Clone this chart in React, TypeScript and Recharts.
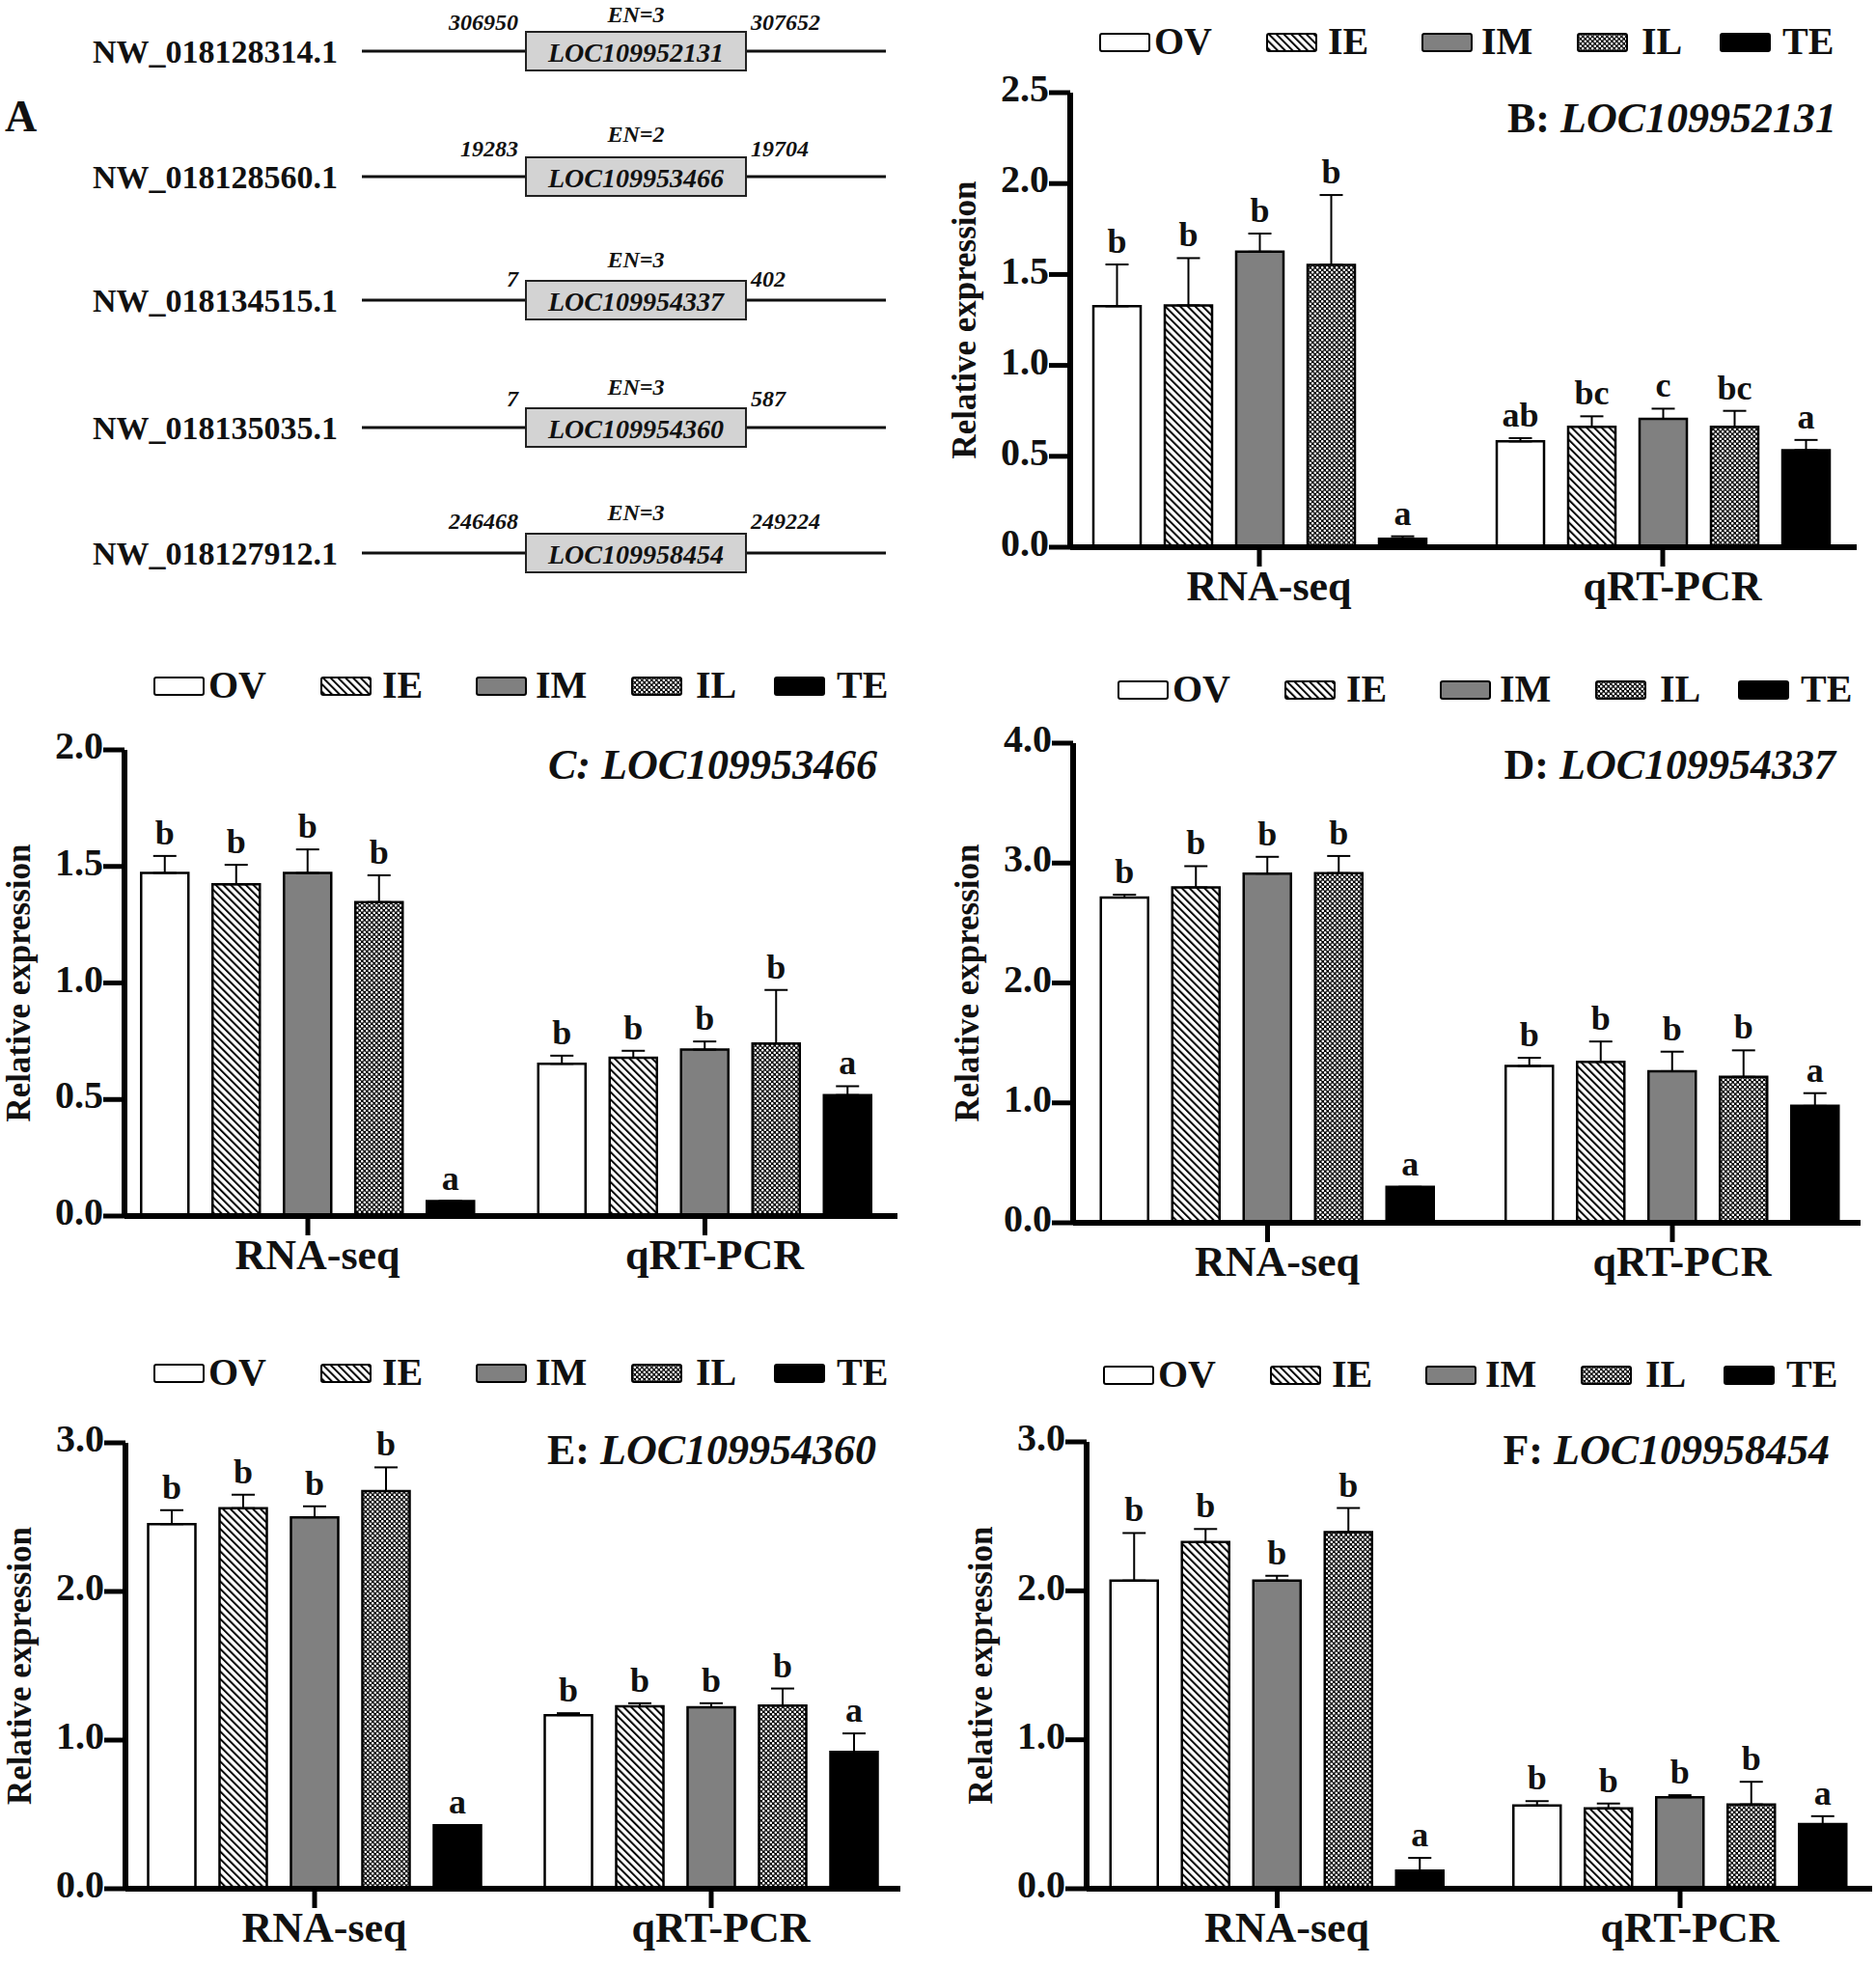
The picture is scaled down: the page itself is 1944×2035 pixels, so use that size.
import React from "react";
import { BarChart, Bar, XAxis, YAxis, ErrorBar, LabelList } from "recharts";

const FONT = '"Liberation Serif", "Times New Roman", serif';
const INK = "#111111";

const tissues = ["OV", "IE", "IM", "IL", "TE"];
const groups = ["RNA-seq", "qRT-PCR"];

// panel A: gene structure
const aScaffolds = ["NW_018128314.1", "NW_018128560.1", "NW_018134515.1", "NW_018135035.1", "NW_018127912.1"];
const aGenes = ["LOC109952131", "LOC109953466", "LOC109954337", "LOC109954360", "LOC109958454"];
const aExons = [3, 2, 3, 3, 3];
const aStarts = ["306950", "19283", "7", "7", "246468"];
const aEnds = ["307652", "19704", "402", "587", "249224"];

// panel B: LOC109952131
const bRnaMean = [1.325, 1.33, 1.625, 1.553, 0.046];
const bRnaErr = [0.23, 0.26, 0.1, 0.384, 0.014];
const bRnaSig = ["b", "b", "b", "b", "a"];
const bPcrMean = [0.582, 0.662, 0.706, 0.662, 0.534];
const bPcrErr = [0.018, 0.058, 0.056, 0.088, 0.056];
const bPcrSig = ["ab", "bc", "c", "bc", "a"];
const bTicks = [0, 0.5, 1.0, 1.5, 2.0, 2.5];

// panel C: LOC109953466
const cRnaMean = [1.472, 1.423, 1.472, 1.347, 0.064];
const cRnaErr = [0.073, 0.084, 0.101, 0.115, 0];
const cRnaSig = ["b", "b", "b", "b", "a"];
const cPcrMean = [0.653, 0.679, 0.714, 0.74, 0.519];
const cPcrErr = [0.035, 0.03, 0.035, 0.23, 0.038];
const cPcrSig = ["b", "b", "b", "b", "a"];
const cTicks = [0, 0.5, 1.0, 1.5, 2.0];

// panel D: LOC109954337
const dRnaMean = [2.712, 2.797, 2.912, 2.916, 0.299];
const dRnaErr = [0.024, 0.177, 0.14, 0.143, 0];
const dRnaSig = ["b", "b", "b", "b", "a"];
const dPcrMean = [1.308, 1.342, 1.264, 1.217, 0.975];
const dPcrErr = [0.068, 0.17, 0.163, 0.221, 0.106];
const dPcrSig = ["b", "b", "b", "b", "a"];
const dTicks = [0, 1.0, 2.0, 3.0, 4.0];

// panel E: LOC109954360
const eRnaMean = [2.453, 2.56, 2.499, 2.675, 0.427];
const eRnaErr = [0.094, 0.091, 0.074, 0.16, 0];
const eRnaSig = ["b", "b", "b", "b", "a"];
const ePcrMean = [1.168, 1.227, 1.221, 1.232, 0.92];
const ePcrErr = [0.013, 0.021, 0.027, 0.115, 0.125];
const ePcrSig = ["b", "b", "b", "b", "a"];
const eTicks = [0, 1.0, 2.0, 3.0];

// panel F: LOC109958454
const fRnaMean = [2.069, 2.327, 2.069, 2.394, 0.122];
const fRnaErr = [0.319, 0.088, 0.032, 0.162, 0.085];
const fRnaSig = ["b", "b", "b", "b", "a"];
const fPcrMean = [0.559, 0.54, 0.614, 0.566, 0.434];
const fPcrErr = [0.029, 0.032, 0.014, 0.152, 0.053];
const fPcrSig = ["b", "b", "b", "b", "a"];
const fTicks = [0, 1.0, 2.0, 3.0];

const fills: Record<string, string> = {
  OV: "#ffffff",
  IE: "url(#hatchIE)",
  IM: "#808080",
  IL: "url(#checkIL)",
  TE: "#000000",
};

function buildRows(means: number[][], errs: number[][], sigs: string[][]) {
  return groups.map((cat, g) => {
    const row: any = { cat };
    tissues.forEach((t, i) => {
      row[t] = means[g][i];
      row[`${t}_err`] = [0, errs[g][i]];
      row[`${t}_tag`] = `${sigs[g][i]}|${errs[g][i]}|${means[g][i]}`;
    });
    return row;
  });
}

const SigLabel = (props: any) => {
  const vb = props.viewBox ?? {};
  const x = vb.x ?? props.x;
  const y = vb.y ?? props.y;
  const w = vb.width ?? props.width;
  const h = vb.height ?? props.height;
  const [sig, err, mean] = String(props.value).split("|");
  const m = Number(mean);
  const errPx = m > 0 ? (Number(err) / m) * Math.abs(h) : 0;
  return (
    <text x={x + w / 2} y={y - errPx - 12} textAnchor="middle" fontSize={36} fontWeight="bold" fontFamily={FONT} fill={INK}>
      {sig}
    </text>
  );
};

type Layout = {
  axisX: number; axisEnd: number; yTop: number; yBottom: number;
  c1: number; c2: number; legendX: number; legendY: number;
  titleRight: number; titleY: number;
};

const legendBox = [0, 173, 334, 495, 643];
const legendText = [57, 237, 396, 562, 708];

function Legend5({ x, y }: { x: number; y: number }) {
  return (
    <>
      {tissues.map((t, i) => (
        <React.Fragment key={t}>
          <svg style={{ position: "absolute", left: x + legendBox[i], top: y - 10 }} width={54} height={20}>
            <rect x={1} y={1} width={51} height={18} rx={2} fill={fills[t]} stroke="#000" strokeWidth={2} />
          </svg>
          <div style={{ position: "absolute", left: x + legendText[i], top: y - 21, fontSize: 40, lineHeight: "40px", fontWeight: "bold", color: INK }}>
            {t}
          </div>
        </React.Fragment>
      ))}
    </>
  );
}

function Panel({ lay, rows, ticks, letter, gene, italicLetter }: { lay: Layout; rows: any[]; ticks: number[]; letter: string; gene: string; italicLetter?: boolean }) {
  const left = lay.axisX - 170;
  const top = lay.yTop - 30;
  const width = lay.axisEnd + 4 - left;
  const height = lay.yBottom + 80 - top;
  const band = lay.c2 - lay.c1;
  const padL = lay.c1 - band / 2 - lay.axisX;
  const padR = lay.axisEnd - (lay.c2 + band / 2);
  const yMax = ticks[ticks.length - 1];
  return (
    <>
      <Legend5 x={lay.legendX} y={lay.legendY} />
      <div style={{ position: "absolute", right: 1944 - lay.titleRight, top: lay.titleY - 22, fontSize: 44, lineHeight: "44px", fontWeight: "bold", color: INK, whiteSpace: "nowrap" }}>
        <span style={{ fontStyle: italicLetter ? "italic" : "normal" }}>{letter}: </span>
        <span style={{ fontStyle: "italic" }}>{gene}</span>
      </div>
      <div style={{ position: "absolute", left, top }}>
        <BarChart width={width} height={height} data={rows} margin={{ top: 30, right: 4, bottom: 0, left: 0 }} barGap={25}>
          <XAxis
            dataKey="cat"
            padding={{ left: padL, right: padR }}
            height={80}
            interval={0}
            axisLine={{ stroke: "#000", strokeWidth: 6 }}
            tickLine={{ stroke: "#000", strokeWidth: 5 }}
            tickSize={20}
            tickMargin={4}
            tick={{ fill: INK, fontSize: 44, fontWeight: "bold", fontFamily: FONT, dx: 10 }}
          />
          <YAxis
            type="number"
            domain={[0, yMax]}
            ticks={ticks}
            interval={0}
            width={170}
            tickFormatter={(v: number) => v.toFixed(1)}
            axisLine={{ stroke: "#000", strokeWidth: 6 }}
            tickLine={{ stroke: "#000", strokeWidth: 5 }}
            tickSize={22}
            tickMargin={0}
            tick={{ fill: INK, fontSize: 40, fontWeight: "bold", fontFamily: FONT, dy: -5 }}
            label={{
              value: "Relative expression",
              angle: -90,
              position: "insideLeft",
              offset: 60,
              style: { textAnchor: "middle", fontSize: 35, fontWeight: "bold", fontFamily: FONT, fill: INK },
            }}
          />
          {tissues.map((t) => (
            <Bar key={t} dataKey={t} fill={fills[t]} stroke="#000" strokeWidth={2.5} barSize={49} isAnimationActive={false}>
              <ErrorBar dataKey={`${t}_err`} direction="y" width={12} stroke="#000" strokeWidth={2} isAnimationActive={false} />
              <LabelList dataKey={`${t}_tag`} content={SigLabel} />
            </Bar>
          ))}
        </BarChart>
      </div>
    </>
  );
}

const aRowY = [53, 183, 311, 443, 573];
const aEnDy = [-38, -44, -42, -42, -42];
const aNumDy = [-30, -29, -22, -30, -33];

function GeneDiagram() {
  return (
    <svg style={{ position: "absolute", left: 0, top: 0 }} width={960} height={620} fontFamily={FONT}>
      <text x={5} y={120} dominantBaseline="central" fontSize={46} fontWeight="bold" fill={INK}>A</text>
      {aScaffolds.map((s, i) => {
        const y = aRowY[i];
        return (
          <g key={s}>
            <text x={350} y={y} textAnchor="end" dominantBaseline="central" fontSize={34} fontWeight="bold" fill={INK}>{s}</text>
            <line x1={375} x2={918} y1={y} y2={y} stroke="#111" strokeWidth={3} />
            <rect x={545} y={y - 20} width={228} height={40} fill="#d3d3d3" stroke="#222" strokeWidth={2} />
            <text x={659} y={y + 1} textAnchor="middle" dominantBaseline="central" fontSize={28} fontStyle="italic" fontWeight="bold" fill={INK}>{aGenes[i]}</text>
            <text x={659} y={y + aEnDy[i]} textAnchor="middle" dominantBaseline="central" fontSize={24} fontStyle="italic" fontWeight="bold" fill={INK}>{`EN=${aExons[i]}`}</text>
            <text x={537} y={y + aNumDy[i]} textAnchor="end" dominantBaseline="central" fontSize={24} fontStyle="italic" fontWeight="bold" fill={INK}>{aStarts[i]}</text>
            <text x={778} y={y + aNumDy[i]} textAnchor="start" dominantBaseline="central" fontSize={24} fontStyle="italic" fontWeight="bold" fill={INK}>{aEnds[i]}</text>
          </g>
        );
      })}
    </svg>
  );
}

const layB: Layout = { axisX: 1109, axisEnd: 1924, yTop: 96, yBottom: 567, c1: 1305, c2: 1723, legendX: 1139, legendY: 44, titleRight: 1903, titleY: 123 };
const layC: Layout = { axisX: 129, axisEnd: 930, yTop: 777, yBottom: 1260, c1: 319, c2: 730.5, legendX: 159, legendY: 711, titleRight: 909, titleY: 793 };
const layD: Layout = { axisX: 1112, axisEnd: 1928, yTop: 770, yBottom: 1267, c1: 1313.5, c2: 1733, legendX: 1158, legendY: 715, titleRight: 1902, titleY: 793 };
const layE: Layout = { axisX: 130, axisEnd: 933, yTop: 1495, yBottom: 1957, c1: 326, c2: 737, legendX: 159, legendY: 1423, titleRight: 908, titleY: 1503 };
const layF: Layout = { axisX: 1126, axisEnd: 1940, yTop: 1494, yBottom: 1957, c1: 1323.5, c2: 1741, legendX: 1143, legendY: 1425, titleRight: 1896, titleY: 1503 };

export default function App() {
  const rowsB = buildRows([bRnaMean, bPcrMean], [bRnaErr, bPcrErr], [bRnaSig, bPcrSig]);
  const rowsC = buildRows([cRnaMean, cPcrMean], [cRnaErr, cPcrErr], [cRnaSig, cPcrSig]);
  const rowsD = buildRows([dRnaMean, dPcrMean], [dRnaErr, dPcrErr], [dRnaSig, dPcrSig]);
  const rowsE = buildRows([eRnaMean, ePcrMean], [eRnaErr, ePcrErr], [eRnaSig, ePcrSig]);
  const rowsF = buildRows([fRnaMean, fPcrMean], [fRnaErr, fPcrErr], [fRnaSig, fPcrSig]);
  return (
    <div style={{ position: "absolute", left: 0, top: 0, width: 1944, height: 2035, background: "#fff", fontFamily: FONT, overflow: "hidden" }}>
      <svg width={0} height={0} style={{ position: "absolute" }}>
        <defs>
          <pattern id="hatchIE" patternUnits="userSpaceOnUse" width={5.5} height={10} patternTransform="rotate(-45)">
            <rect width={5.5} height={10} fill="#fff" />
            <rect x={0} width={2} height={10} fill="#000" />
          </pattern>
          <pattern id="checkIL" patternUnits="userSpaceOnUse" width={5} height={5}>
            <rect width={5} height={5} fill="#000" />
            <circle cx={1.25} cy={1.25} r={1.3} fill="#fff" />
            <circle cx={3.75} cy={3.75} r={1.3} fill="#fff" />
          </pattern>
        </defs>
      </svg>
      <GeneDiagram />
      <Panel lay={layB} rows={rowsB} ticks={bTicks} letter="B" gene="LOC109952131" />
      <Panel lay={layC} rows={rowsC} ticks={cTicks} letter="C" gene="LOC109953466" italicLetter />
      <Panel lay={layD} rows={rowsD} ticks={dTicks} letter="D" gene="LOC109954337" />
      <Panel lay={layE} rows={rowsE} ticks={eTicks} letter="E" gene="LOC109954360" />
      <Panel lay={layF} rows={rowsF} ticks={fTicks} letter="F" gene="LOC109958454" />
    </div>
  );
}
